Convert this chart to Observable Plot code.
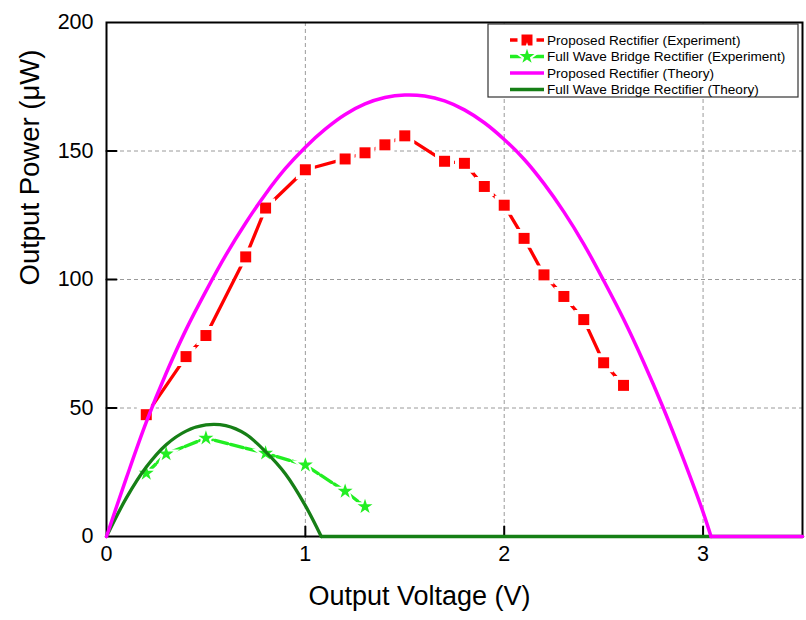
<!DOCTYPE html>
<html>
<head>
<meta charset="utf-8">
<script src="https://cdn.jsdelivr.net/npm/d3@7"></script>
<script src="https://cdn.jsdelivr.net/npm/@observablehq/plot@0.6"></script>
<style>
  html, body { margin: 0; padding: 0; background: #fff; }
  #chart { width: 806px; height: 620px; }
</style>
</head>
<body>
<div id="chart"></div>
<script>
// ---- Data ----
// Proposed rectifier, experiment (squares)
const propExpV = [0.2, 0.4, 0.5, 0.7, 0.8, 1.0, 1.2, 1.3, 1.4, 1.5, 1.7, 1.8, 1.9, 2.0, 2.1, 2.2, 2.3, 2.4, 2.5, 2.6];
const propExpP = [47.4, 70, 78.2, 108.8, 127.8, 142.7, 146.9, 149.3, 152.4, 155.9, 146, 145.2, 136.2, 128.9, 116, 101.8, 93.4, 84.4, 67.6, 58.8];
// Full wave bridge rectifier, experiment (stars)
const fwbExpV = [0.2, 0.3, 0.5, 0.8, 1.0, 1.2, 1.3];
const fwbExpP = [24.6, 32.1, 38.3, 32.4, 27.8, 17.6, 11.6];
// Proposed rectifier, theory (magenta curve)
const propThV = [0, 0.1, 0.2, 0.3, 0.4, 0.5, 0.6, 0.7, 0.8, 0.9, 1.0, 1.1, 1.2, 1.3, 1.4, 1.5, 1.6, 1.7, 1.8, 1.9, 2.0, 2.1, 2.2, 2.3, 2.4, 2.5, 2.6, 2.7, 2.8, 2.9, 3.0, 3.04, 3.5];
const propThP = [0, 22.8, 44.5, 63.5, 80.5, 95.5, 109.5, 122, 133.3, 143.2, 151.5, 158.5, 164.2, 168.3, 170.8, 171.8, 171.4, 169.5, 166, 161, 154.5, 146.8, 137.3, 126.3, 113.8, 99.6, 84.6, 68, 50, 30.4, 9.5, 0, 0];
const propThEnd = 3.04;
// Full wave bridge rectifier, theory (dark green curve)
const fwbThV = [0, 0.1, 0.2, 0.3, 0.4, 0.5, 0.6, 0.7, 0.8, 0.9, 1.0, 1.08, 3.5];
const fwbThP = [0, 15, 27, 35.7, 41, 43.4, 43.1, 39.8, 33, 24.3, 12, 0, 0];
const fwbThEnd = 1.08;
// Axes
const xTicks = [0, 1, 2, 3];
const yTicks = [0, 50, 100, 150, 200];
const xInnerTicks = [1, 2, 3];
const yInnerTicks = [50, 100, 150];
const xLabel = "Output Voltage (V)";
const yLabel = "Output Power (\u03BCW)";
const legendLabels = [
  "Proposed Rectifier (Experiment)",
  "Full Wave Bridge Rectifier (Experiment)",
  "Proposed Rectifier (Theory)",
  "Full Wave Bridge Rectifier (Theory)"
];

const RED = "#ff0000", LGREEN = "#22ee22", MAGENTA = "#ff00ff", DGREEN = "#167f16";

const zip = (xs, ys) => xs.map((x, i) => ({x, y: ys[i]}));
const propExp = zip(propExpV, propExpP);
const fwbExp = zip(fwbExpV, fwbExpP);
const propTh = zip(propThV, propThP);
const fwbTh = zip(fwbThV, fwbThP);

const gridStyle = {stroke: "#9a9a9a", strokeOpacity: 1, strokeWidth: 1, strokeDasharray: "4,3"};
// a plain straight tick (no arrow head) for the inward axis ticks
const tickShape = {draw(context, l) { context.moveTo(0, 0); context.lineTo(0, -l); }};

const chart = Plot.plot({
  width: 806,
  height: 620,
  marginLeft: 106,
  marginRight: 4,
  marginTop: 22,
  marginBottom: 84,
  style: {fontFamily: "'Liberation Sans', Arial, sans-serif", background: "#fff", color: "#000"},
  x: {domain: [0, 3.5]},
  y: {domain: [0, 200]},
  marks: [
    Plot.gridX(xInnerTicks, gridStyle),
    Plot.gridY(yInnerTicks, gridStyle),
    Plot.axisX(xTicks, {tickSize: 0, tickPadding: 9, fontSize: 21.5, label: null, tickFormat: d => String(d)}),
    Plot.axisY(yTicks, {tickSize: 0, tickPadding: 13, fontSize: 21.5, label: null, tickFormat: d => String(d)}),
    Plot.vector(xInnerTicks, {x: d => d, y: 0, length: 10, rotate: 0, anchor: "start", shape: tickShape, stroke: "#000", strokeWidth: 2}),
    Plot.vector(yInnerTicks, {x: 0, y: d => d, length: 10, rotate: 90, anchor: "start", shape: tickShape, stroke: "#000", strokeWidth: 2}),
    Plot.frame({stroke: "#000", strokeWidth: 2}),
    Plot.text([xLabel], {frameAnchor: "bottom", dx: -35, dy: 59.4, fontSize: 27, lineAnchor: "middle", fill: "#000"}),
    Plot.text([yLabel], {frameAnchor: "left", rotate: -90, dx: -76, dy: 6, fontSize: 27.5, lineAnchor: "middle", fill: "#000"}),
    // experiment: proposed
    Plot.line(propExp, {x: "x", y: "y", stroke: RED, strokeWidth: 3.3}),
    Plot.dot(propExp, {x: "x", y: "y", symbol: "square", r: 6.2, fill: RED, stroke: "#fff", strokeWidth: 8, paintOrder: "stroke"}),
    // experiment: full wave bridge
    Plot.line(fwbExp, {x: "x", y: "y", stroke: LGREEN, strokeWidth: 3.3, strokeDasharray: "13,3"}),
    Plot.dot(fwbExp, {x: "x", y: "y", symbol: "star", r: 4.7, fill: LGREEN, stroke: "#fff", strokeWidth: 4, paintOrder: "stroke"}),
    // theory: full wave bridge
    Plot.line(fwbTh.filter(d => d.x <= fwbThEnd), {x: "x", y: "y", stroke: DGREEN, strokeWidth: 3.3, curve: "catmull-rom"}),
    Plot.line(fwbTh.filter(d => d.x >= fwbThEnd), {x: "x", y: "y", stroke: DGREEN, strokeWidth: 3.3}),
    // theory: proposed
    Plot.line(propTh.filter(d => d.x <= propThEnd), {x: "x", y: "y", stroke: MAGENTA, strokeWidth: 3.5, curve: "catmull-rom"}),
    Plot.line(propTh.filter(d => d.x >= propThEnd), {x: "x", y: "y", stroke: MAGENTA, strokeWidth: 3.5})
  ]
});

document.getElementById("chart").appendChild(chart);

// ---- Legend (inside the plot, top right) ----
const svg = d3.select(chart);
const lg = svg.append("g").attr("font-family", "'Liberation Sans', Arial, sans-serif").attr("text-anchor", "start");
lg.append("rect").attr("x", 488).attr("y", 24).attr("width", 310).attr("height", 73)
  .attr("fill", "#fff").attr("stroke", "#333").attr("stroke-width", 1.2);
const rows = [
  {label: legendLabels[0], color: RED, w: 3.3, sym: d3.symbolSquare, size: Math.PI * 6.2 * 6.2, halo: 8},
  {label: legendLabels[1], color: LGREEN, w: 3.3, sym: d3.symbolStar, size: Math.PI * 4.7 * 4.7, halo: 4},
  {label: legendLabels[2], color: MAGENTA, w: 3.5, sym: null},
  {label: legendLabels[3], color: DGREEN, w: 3.3, sym: null}
];
rows.forEach((r, i) => {
  const y = 40 + i * 16.5;
  lg.append("line").attr("x1", 510).attr("x2", 544).attr("y1", y).attr("y2", y)
    .attr("stroke", r.color).attr("stroke-width", r.w);
  if (r.sym) {
    lg.append("path").attr("d", d3.symbol(r.sym, r.size)())
      .attr("transform", `translate(527,${y})`)
      .attr("fill", r.color).attr("stroke", "#fff").attr("stroke-width", r.halo)
      .attr("paint-order", "stroke");
  }
  lg.append("text").attr("x", 547).attr("y", y).attr("dy", "0.35em")
    .attr("text-anchor", "start")
    .attr("font-size", 13.6).attr("fill", "#000").text(r.label);
});
</script>
</body>
</html>
